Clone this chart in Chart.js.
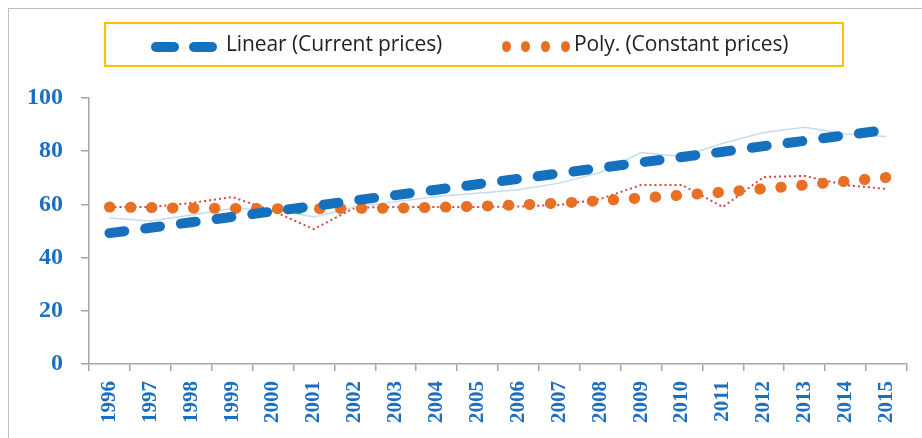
<!DOCTYPE html>
<html>
<head>
<meta charset="utf-8">
<script src="https://cdn.jsdelivr.net/npm/chart.js@4.4.1/dist/chart.umd.min.js"></script>
<style>
  html, body { margin: 0; padding: 0; background: #fff; }
  #wrap { position: relative; width: 922px; height: 438px; overflow: hidden; }
  #frame { position: absolute; left: 8px; top: 8px; width: 940px; height: 460px;
           border-left: 1.5px solid #bfbfbf; border-top: 1.5px solid #bfbfbf; }
  #legend { position: absolute; left: 104px; top: 22px; width: 736px; height: 41px;
            border: 2px solid #ffc000; font-family: "Open Sans", sans-serif;
            font-size: 21px; color: #222; }
  .dash { position: absolute; top: 18px; width: 28px; height: 10px; border-radius: 5px; background: #1570be; }
  .dot { position: absolute; top: 17px; width: 9px; height: 11px; border-radius: 50%; background: #e87025; }
  .txt { position: absolute; top: 5px; white-space: nowrap; letter-spacing: -0.1px; }
  canvas { position: absolute; left: 0; top: 0; }
</style>
</head>
<body>
<div id="wrap">
  <div id="frame"></div>
  <canvas id="chart" width="922" height="438"></canvas>
  <div id="legend">
    <div class="dash" style="left:45px"></div>
    <div class="dash" style="left:83px"></div>
    <div class="txt" style="left:120px">Linear (Current prices)</div>
    <div class="dot" style="left:396px"></div>
    <div class="dot" style="left:415px"></div>
    <div class="dot" style="left:435px"></div>
    <div class="dot" style="left:455px"></div>
    <div class="txt" style="left:468px">Poly. (Constant prices)</div>
  </div>
</div>
<script>
const years = ['1996', '1997', '1998', '1999', '2000', '2001', '2002', '2003', '2004', '2005',
               '2006', '2007', '2008', '2009', '2010', '2011', '2012', '2013', '2014', '2015'];
const currentPrices = [54.9, 53.8, 56.0, 58.5, 58.0, 55.3, 59.0, 61.0, 63.0, 64.2,
                       65.5, 68.0, 72.0, 79.5, 78.0, 83.0, 87.0, 89.0, 86.5, 85.5];
const constantPrices = [59.0, 59.0, 60.5, 62.8, 57.5, 50.7, 58.8, 59.0, 59.0, 59.0,
                        59.2, 59.8, 62.0, 67.3, 67.3, 59.0, 70.3, 70.7, 67.3, 65.8];
const linearCurrent = [49.2, 51.2, 53.3, 55.3, 57.4, 59.4, 61.5, 63.5, 65.5, 67.6,
                       69.6, 71.7, 73.7, 75.8, 77.8, 79.8, 81.9, 83.9, 86.0, 88.0];
const polyConstant = [59.0, 58.8, 58.6, 58.5, 58.4, 58.4, 58.5, 58.6, 58.9, 59.3,
                      59.8, 60.5, 61.4, 62.4, 63.5, 64.6, 65.9, 67.3, 68.7, 70.1];
const yTicks = [0, 20, 40, 60, 80, 100];

const tickBlue = '#1c6ec0';
const axisGrey = '#a6a6a6';

new Chart(document.getElementById('chart').getContext('2d'), {
    type: 'line',
    data: {
        labels: years,
        datasets: [
            {
                label: 'Linear (Current prices)',
                data: linearCurrent,
                borderColor: '#1570be',
                borderWidth: 10,
                borderDash: [15, 21],
                borderCapStyle: 'round',
                pointRadius: 0,
                order: 1
            },
            {
                label: 'Poly. (Constant prices)',
                data: polyConstant,
                borderColor: '#e87025',
                borderWidth: 11,
                borderDash: [0.5, 20.5],
                borderCapStyle: 'round',
                cubicInterpolationMode: 'monotone',
                pointRadius: 0,
                order: 1
            },
            {
                label: 'Current prices',
                data: currentPrices,
                borderColor: '#c5dbef',
                borderWidth: 1.5,
                pointRadius: 0,
                order: 2
            },
            {
                label: 'Constant prices',
                data: constantPrices,
                borderColor: '#d64541',
                borderWidth: 2,
                borderDash: [2, 3],
                pointRadius: 0,
                order: 2
            }
        ]
    },
    options: {
        responsive: false,
        animation: false,
        layout: { padding: { left: 0, right: 13, top: 98, bottom: 0 } },
        plugins: {
            legend: { display: false },
            tooltip: { enabled: false }
        },
        scales: {
            x: {
                offset: true,
                grid: { offset: true, drawOnChartArea: false, tickLength: 7, color: axisGrey, lineWidth: 1.5 },
                border: { color: axisGrey, width: 1.5 },
                ticks: {
                    color: tickBlue,
                    padding: 10,
                    minRotation: 90,
                    maxRotation: 90,
                    autoSkip: false,
                    font: { family: 'Liberation Serif', weight: 'bold', size: 21 }
                },
                afterFit: function(scale) { scale.height = 74; }
            },
            y: {
                min: 0,
                max: 100,
                afterBuildTicks: function(scale) { scale.ticks = yTicks.map(v => ({ value: v })); },
                grid: { drawOnChartArea: false, tickLength: 8, color: axisGrey, lineWidth: 1.5 },
                border: { color: axisGrey, width: 1.5 },
                ticks: {
                    color: tickBlue,
                    padding: 18,
                    font: { family: 'Liberation Serif', weight: 'bold', size: 24 }
                },
                afterFit: function(scale) { scale.width = 89; }
            }
        }
    }
});
</script>
</body>
</html>
